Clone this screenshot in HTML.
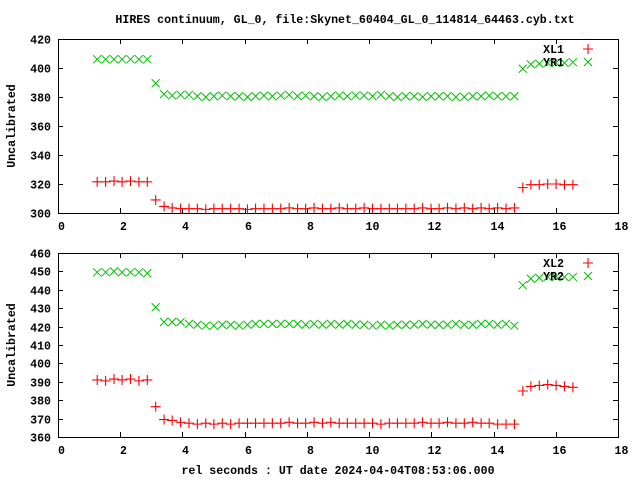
<!DOCTYPE html>
<html><head><meta charset="utf-8"><style>
html,body{margin:0;padding:0;background:#fff;}
svg text{font-family:"Liberation Mono",monospace;font-size:11.6px;font-weight:bold;fill:#000;}
</style></head><body>
<svg id="chart" width="640" height="480" xmlns="http://www.w3.org/2000/svg">
<rect width="640" height="480" fill="#fff"/>
<text x="345" y="23" text-anchor="middle">HIRES continuum, GL_0, file:Skynet_60404_GL_0_114814_64463.cyb.txt</text>
<text x="338" y="474" text-anchor="middle">rel seconds : UT date 2024-04-04T08:53:06.000</text>
<g id="p1"></g>
<g id="p2"></g>
</svg>
<script>
const times=[1.26,1.53,1.80,2.06,2.33,2.60,2.87,3.14,3.41,3.67,3.94,4.21,4.48,4.75,5.01,5.28,5.55,5.82,6.09,6.35,6.62,6.89,7.16,7.43,7.70,7.96,8.23,8.50,8.77,9.04,9.30,9.57,9.84,10.11,10.38,10.65,10.91,11.18,11.45,11.72,11.99,12.25,12.52,12.79,13.06,13.33,13.60,13.86,14.13,14.40,14.67,14.94,15.20,15.47,15.74,16.01,16.28,16.55];
const xl1=[321.5,321.5,322,321.5,322,321.5,321.5,
309,304.5,303.5,303,303,303,302.5,303,303,303,303,302.5,303,303,303,303,303.5,303,303,303.5,303,303,303.5,303,303,303.5,303,303,303,303,303,303,303.5,303,303,303.5,303,303.5,303,303.5,303,303.5,303,303.5,
317.5,319.5,319.5,320,320,319.5,319.5];
const yr1=[406,406,406,406,406,406,406,
389.5,382,381,381.5,381.5,380.5,380,380.5,381,380.5,380.5,380,380.5,381,380.5,381,381.5,380.5,381,380.5,380,380.5,381,380.5,381,381,380.5,381.5,380.5,380,380.5,380.5,380,380.5,380.5,380.5,380,380,380.5,380.5,381,380.5,380.5,380.5,
399.5,402.5,403,403.5,403.5,403.5,404];
const xl2=[391,390.5,391.5,391,391.5,390.5,391,
376.5,369.5,369,368,367.5,367,367.5,367,367.5,367,367.5,367.5,367.5,367.5,367.5,367.5,368,367.5,367.5,368,367.5,368,367.5,367.5,367.5,367.5,367.5,367,367.5,367.5,367.5,367.5,368,367.5,367.5,368,367.5,367.5,368,367.5,367.5,367,367,367,
385,387.5,388,388.5,388,387.5,387];
const yr2=[449.5,449.5,450,449.5,449.5,449.5,449,
430.5,422.5,422.5,422.5,421.5,421,420.5,420.5,421,421,420.5,421,421.5,421.5,421.5,421.5,421.5,421.5,421,421.5,421,421.5,421,421.5,421,421,420.5,421,420.5,421,421,421,421.5,421,421,421,421.5,421,421,421.5,421.5,421,421.5,420.5,
442.5,446,446.5,447,447,447,447];
const xTicks=[0,2,4,6,8,10,12,14,16,18];
const yTicks1=[300,320,340,360,380,400,420];
const yTicks2=[360,370,380,390,400,410,420,430,440,450,460];
const legend1=["XL1","YR1"];
const legend2=["XL2","YR2"];

const NS="http://www.w3.org/2000/svg";
const X0=58,X1=618;
function xs(v){return X0+(v-0)/(18-0)*(X1-X0);}
function mk(tag,attrs,parent){const e=document.createElementNS(NS,tag);for(const k in attrs)e.setAttribute(k,attrs[k]);parent.appendChild(e);return e;}
function plus(g,x,y){
  const p=mk('path',{d:`M${x-5} ${y}H${x+5}M${x} ${y-5}V${y+5}`,stroke:'#ff0000','stroke-width':1.1,fill:'none'},g);
  
  
}
function cross(g,x,y){
  const p=mk('path',{d:`M${x-4} ${y-4}L${x+4} ${y+4}M${x-4} ${y+4}L${x+4} ${y-4}`,stroke:'#00c000','stroke-width':1,fill:'none'},g);
  
  
}
function panel(g,top,bot,ymin,ymax,yt,s1,s2,leg){
  const ys=v=>bot-(v-ymin)/(ymax-ymin)*(bot-top);
  const yl=mk('text',{x:0,y:0,'text-anchor':'middle',transform:`translate(15,${(top+bot)/2}) rotate(-90)`},g);
  yl.textContent='Uncalibrated';
  
  
  for(const t of yt){
    const y=Math.round(ys(t))+0.5;
    mk('path',{d:`M${X0} ${y}h5M${X1} ${y}h-5`,stroke:'#000','stroke-width':1},g);
    const tx=mk('text',{x:51,y:y+4,'text-anchor':'end'},g);
    tx.textContent=t;
    
    
  }
  for(const t of xTicks){
    const x=Math.round(xs(t))+0.5;
    mk('path',{d:`M${x} ${bot}v-5M${x} ${top}v5`,stroke:'#000','stroke-width':1},g);
    const tx=mk('text',{x:x+3,y:bot+17,'text-anchor':'middle'},g);
    tx.textContent=t;
    
    
  }
  const fr=mk('rect',{x:X0+0.5,y:top+0.5,width:X1-X0,height:bot-top,fill:'none',stroke:'#000','stroke-width':1},g);
  
  
  for(let i=0;i<times.length;i++){plus(g,xs(times[i]),ys(s1[i]));}
  for(let i=0;i<times.length;i++){cross(g,xs(times[i]),ys(s2[i]));}
  const l1=mk('text',{x:564,y:top+14,'text-anchor':'end'},g);
  l1.textContent=leg[0];
  
  
  plus(g,588,top+10);
  const l2=mk('text',{x:564,y:top+27,'text-anchor':'end'},g);
  l2.textContent=leg[1];
  
  
  cross(g,588,top+23);
}
panel(document.getElementById('p1'),39,213,300,420,yTicks1,xl1,yr1,legend1);
panel(document.getElementById('p2'),253,437,360,460,yTicks2,xl2,yr2,legend2);
</script>
</body></html>
